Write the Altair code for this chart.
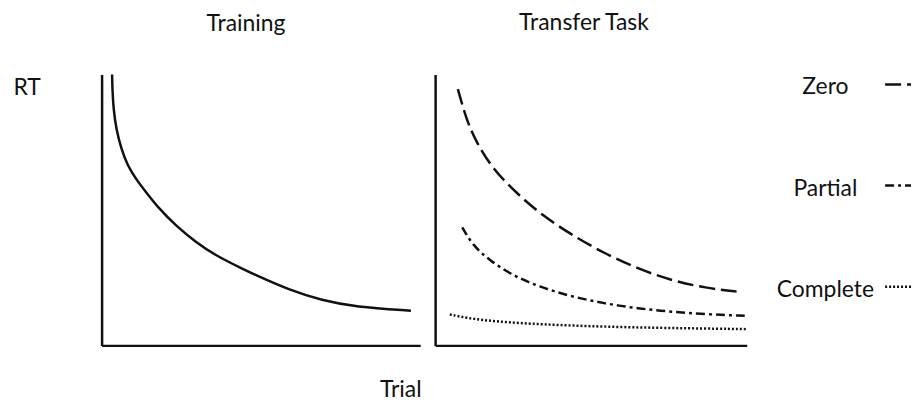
import altair as alt
import pandas as pd

# ---- data (arbitrary units 0-100) ----
train_trial = [3.3, 3.4, 3.75, 4.6, 6.2, 8.2, 10.8, 14.0, 18.1, 23.3, 29.6, 35.8,
               44.2, 48.3, 58.8, 69.2, 79.6, 97.1]
train_rt = [100.0, 94.5, 87.1, 79.8, 72.4, 66.3, 61.4, 56.5, 50.4, 44.2, 38.1, 33.2,
            28.3, 26.0, 20.5, 16.6, 14.2, 12.8]

zero_trial = [7.3, 10.0, 13.2, 18.5, 26.3, 34.5, 44.1, 54.6, 65.1, 75.7, 86.7, 97.9]
zero_rt = [94.6, 83.5, 75.0, 65.1, 56.0, 47.9, 40.6, 33.8, 28.3, 24.0, 21.2, 19.7]

partial_trial = [8.7, 12.1, 17.5, 24.9, 33.5, 44.1, 54.7, 65.1, 76.0, 86.7, 99.5]
partial_rt = [43.6, 36.9, 31.4, 25.8, 21.6, 17.9, 15.4, 13.6, 12.4, 11.5, 10.9]

complete_trial = [4.7, 12.1, 22.8, 38.8, 60.1, 81.4, 100.0]
complete_rt = [11.4, 9.7, 8.5, 7.5, 6.7, 6.3, 6.0]

conditions = ["Zero", "Partial", "Complete"]
panel_titles = ["Training", "Transfer Task"]
x_title = "Trial"
y_title = "RT"

# ---- styles ----
FONT = "Lato"
FS = 23
INK = "#111111"
LW = 2.5
dash_styles = [[16, 6], [9, 4, 3, 4], [2, 2]]

train_df = pd.DataFrame({"Trial": train_trial, "RT": train_rt})
transfer_df = pd.concat([
    pd.DataFrame({"cond": c, "Trial": t, "RT": r})
    for c, t, r in [("Zero", zero_trial, zero_rt),
                    ("Partial", partial_trial, partial_rt),
                    ("Complete", complete_trial, complete_rt)]
], ignore_index=True)

dash_scale = alt.Scale(domain=conditions, range=dash_styles)
xscale = alt.Scale(domain=[0, 100], nice=False, zero=False)
yscale = alt.Scale(domain=[0, 100], nice=False, zero=True)

base_axis = dict(labels=False, ticks=False, grid=False, domainColor=INK,
                 domainWidth=LW, titleFont=FONT, titleFontSize=FS,
                 titleFontWeight="normal", titleColor=INK)

left = alt.Chart(
    train_df,
    title=alt.TitleParams(panel_titles[0], font=FONT, fontSize=FS, fontWeight="normal",
                          color=INK, anchor="middle", baseline="alphabetic",
                          offset=16, dx=-15),
).mark_line(color=INK, strokeWidth=LW, interpolate="basis").encode(
    x=alt.X("Trial:Q", scale=xscale,
            axis=alt.Axis(title=x_title, titleX=300, titleY=51, titleAlign="center",
                          titleBaseline="alphabetic", **base_axis)),
    y=alt.Y("RT:Q", scale=yscale,
            axis=alt.Axis(title=y_title, titleAngle=0, titleX=-89, titleY=20,
                          titleAlign="left", titleBaseline="alphabetic", **base_axis)),
).properties(width=320, height=272)

right = alt.Chart(
    transfer_df,
    title=alt.TitleParams(panel_titles[1], font=FONT, fontSize=FS, fontWeight="normal",
                          color=INK, anchor="middle", baseline="alphabetic",
                          offset=22, dx=-7),
).mark_line(color=INK, strokeWidth=LW, interpolate="basis").encode(
    x=alt.X("Trial:Q", scale=xscale, axis=alt.Axis(title=None, **base_axis)),
    y=alt.Y("RT:Q", scale=yscale, axis=alt.Axis(title=None, **base_axis)),
    strokeDash=alt.StrokeDash("cond:N", scale=dash_scale, legend=None),
    detail="cond:N",
).properties(width=313, height=272)

# ---- hand-made legend (labels left of the line samples) ----
leg_df = pd.DataFrame({"cond": [c for c in conditions for _ in range(2)],
                       "pos": [0, 1] * len(conditions)})
leg_y = alt.Scale(domain=conditions, range=[10, 213], padding=0)
leg_lines = alt.Chart(leg_df).mark_line(color=INK, strokeWidth=LW).encode(
    x=alt.X("pos:Q", scale=alt.Scale(domain=[0, 1], range=[124, 150]), axis=None),
    y=alt.Y("cond:N", scale=leg_y, axis=None),
    strokeDash=alt.StrokeDash("cond:N", scale=dash_scale, legend=None),
    detail="cond:N",
)
leg_text = alt.Chart(pd.DataFrame({"cond": conditions})).mark_text(
    font=FONT, fontSize=FS, color=INK, align="center", baseline="alphabetic", dy=10
).encode(
    x=alt.value(64),
    y=alt.Y("cond:N", scale=leg_y, axis=None),
    text="cond:N",
)
legend = alt.layer(leg_lines, leg_text).properties(width=150, height=272)

chart = alt.hconcat(left, right, legend, spacing=15, bounds="flush").properties(
    padding={"left": 5, "top": 3, "right": 0, "bottom": 0},
    background="white",
).configure_view(stroke=None)

chart.save("out.html", embed_options={"renderer": "svg", "actions": False})
